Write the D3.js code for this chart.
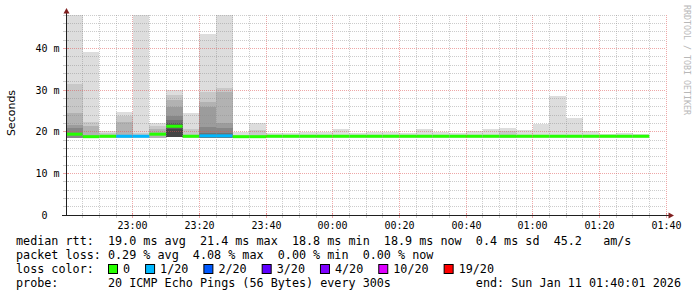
<!DOCTYPE html>
<html lang="en">
<head>
<meta charset="UTF-8">
<title>SmokePing median rtt</title>
<script src="https://cdn.jsdelivr.net/npm/d3@7"></script>
<style>
  body { margin: 0; background: #fff; }
  svg { display: block; }
  text { font-family: "DejaVu Sans Mono", monospace; white-space: pre; }
</style>
</head>
<body>
<svg id="chart" width="697" height="297"></svg>
<script>
// start of each 5 minute bin
const binTimes = ["22:40", "22:45", "22:50", "22:55", "23:00", "23:05", "23:10", "23:15",
  "23:20", "23:25", "23:30", "23:35", "23:40", "23:45", "23:50", "23:55",
  "00:00", "00:05", "00:10", "00:15", "00:20", "00:25", "00:30", "00:35",
  "00:40", "00:45", "00:50", "00:55", "01:00", "01:05", "01:10", "01:15",
  "01:20", "01:25", "01:30"];
const endTime = "01:40";

// median rtt per bin, ms
const medianRtt = [19.4, 18.8, 18.9, 18.9, 18.9, 19.4, 21.3, 18.9, 19.0, 19.0,
  18.8, 18.8, 18.9, 18.9, 18.9, 18.9, 18.9, 18.9, 18.9, 18.9,
  18.9, 18.9, 18.9, 18.9, 18.9, 18.9, 18.9, 18.9, 18.9, 18.9,
  18.9, 18.9, 18.9, 18.9, 18.9];

// lost pings (of 20) per bin
const lossCount = [0, 0, 0, 1, 1, 0, 0, 0, 1, 1,
  0, 0, 0, 0, 0, 0, 0, 0, 0, 0,
  0, 0, 0, 0, 0, 0, 0, 0, 0, 0,
  0, 0, 0, 0, 0];

// smoke: upper edge of each ping band, outer band first, ms
const smokeTops = [
  [49, 31.4, 24.5, 21.6, 20.9],
  [39.2, 22.4, 21.4],
  [20.2, 19.6],
  [24.7, 23.8, 22.3],
  [49, 19.7],
  [22.1, 21.4, 20.6],
  [30.0, 28.8, 27.6, 26.0, 23.8, 22.8, 22.0, 20.6],
  [24.6, 20.6],
  [43.4, 29.6, 27.2, 26.0, 21.2, 19.6],
  [49, 30.6, 29.6, 22.0, 20.8, 19.6],
  [20.0],
  [22.2, 20.4],
  [19.8], [19.6], [20.0], [20.0], [20.6], [19.6], [20.0], [20.0],
  [19.6], [20.6], [20.0], [19.6], [20.2], [20.6], [21.0, 20.2], [20.4],
  [21.8], [28.6], [23.4], [20.2], [19.4], [19.8], [19.4]
];
// fastest ping per bin, ms
const smokeBottom = [18.6, 18.6, 18.6, 18.6, 18.6, 18.6, 18.8, 18.6, 18.6, 18.6,
  18.6, 18.6, 18.6, 18.6, 18.6, 18.6, 18.6, 18.6, 18.6, 18.6,
  18.6, 18.6, 18.6, 18.6, 18.6, 18.6, 18.6, 18.6, 18.6, 18.6,
  18.6, 18.6, 18.6, 18.6, 18.6];

const yTicks = [0, 10, 20, 30, 40];
const yTickLabels = ["0  ", "10 m", "20 m", "30 m", "40 m"];

const lossThresholds = [1, 2, 3, 4, 10, 19];
const lossLabels = ["0", "1/20", "2/20", "3/20", "4/20", "10/20", "19/20"];

const legendLines = [
  "median rtt:  19.0 ms avg  21.4 ms max  18.8 ms min  18.9 ms now  0.4 ms sd  45.2   am/s",
  "packet loss: 0.29 % avg  4.08 % max  0.00 % min  0.00 % now",
  "loss color:",
  "probe:       20 ICMP Echo Pings (56 Bytes) every 300s            end: Sun Jan 11 01:40:01 2026"
];

// styles
const lossColors = ["#26ff00", "#00b8ff", "#0059ff", "#5e00ff", "#7e00ff", "#dd00ff", "#ff0000"];
const smokeShades = ["#dddddd", "#c8c8c8", "#b2b2b2", "#9c9c9c", "#878787", "#717171", "#5a5a5a", "#444444"];
const gridColor = "rgba(143,143,143,0.45)";
const mgridColor = "rgba(222,79,79,0.5)";
const arrowColor = "#801f1f";

const svg = d3.select("#chart");
svg.append("rect").attr("width", 697).attr("height", 297).attr("fill", "#fff");

const parseHM = s => {
  const [h, m] = s.split(":").map(Number);
  return new Date(2026, 0, h >= 12 ? 10 : 11, h, m);
};
const times = binTimes.map(parseHM);
const tEnd = parseHM(endTime);
const binEnd = t => d3.timeMinute.offset(t, 5);

const x = d3.scaleTime().domain([times[0], tEnd]).range([66, 666]);
const y = d3.scaleLinear().domain([0, 48]).range([215, 15]);
const color = d3.scaleThreshold().domain(lossThresholds).range(lossColors);
const snap = v => Math.floor(v) + 0.5;

svg.append("clipPath").attr("id", "plot")
  .append("rect").attr("x", 66).attr("y", 15).attr("width", 600).attr("height", 200);

const plot = svg.append("g").attr("clip-path", "url(#plot)");

// smoke
times.forEach((t, i) => {
  plot.append("g").selectAll("rect")
    .data(smokeTops[i])
    .join("rect")
    .attr("x", x(t))
    .attr("width", x(binEnd(t)) - x(t))
    .attr("y", d => y(d))
    .attr("height", d => y(smokeBottom[i]) - y(d))
    .attr("fill", (d, j) => smokeShades[j])
    .attr("shape-rendering", "crispEdges");
});

// median line, coloured by loss
plot.append("g").selectAll("line")
  .data(times)
  .join("line")
  .attr("x1", d => x(d))
  .attr("x2", d => x(binEnd(d)))
  .attr("y1", (d, i) => y(medianRtt[i]))
  .attr("y2", (d, i) => y(medianRtt[i]))
  .attr("stroke", (d, i) => color(lossCount[i]))
  .attr("stroke-width", 3);

// grid
const grid = svg.append("g").attr("stroke-dasharray", "1,1").attr("stroke-width", 1);
const allX = d3.timeMinute.every(5).range(times[0], d3.timeMinute.offset(tEnd, 1)).slice(1);
const isMajorX = t => t.getMinutes() % 20 === 0;
grid.selectAll(".vx").data(allX).join("line")
  .attr("x1", d => snap(x(d))).attr("x2", d => snap(x(d)))
  .attr("y1", 15).attr("y2", 215)
  .attr("stroke", d => isMajorX(d) ? mgridColor : gridColor);
const allY = y.ticks(24).filter(v => v > 0);
const isMajorY = v => yTicks.includes(v);
grid.selectAll(".hy").data(allY).join("line")
  .attr("x1", 66).attr("x2", 666)
  .attr("y1", d => snap(y(d))).attr("y2", d => snap(y(d)))
  .attr("stroke", d => isMajorY(d) ? mgridColor : gridColor);

// axis ticks
const ticks = svg.append("g").attr("stroke-width", 1);
ticks.selectAll(".tx").data(allX).join("line")
  .attr("x1", d => snap(x(d))).attr("x2", d => snap(x(d)))
  .attr("y1", 213).attr("y2", 218)
  .attr("stroke", d => isMajorX(d) ? mgridColor : gridColor);
ticks.selectAll(".ty").data(allY).join("line")
  .attr("x1", 63).attr("x2", 69)
  .attr("y1", d => snap(y(d))).attr("y2", d => snap(y(d)))
  .attr("stroke", d => isMajorY(d) ? mgridColor : gridColor);

// axes and arrows
svg.append("line").attr("x1", 66.5).attr("x2", 66.5).attr("y1", 216).attr("y2", 12)
  .attr("stroke", "#1f1f1f");
svg.append("line").attr("x1", 62).attr("x2", 669).attr("y1", 215.5).attr("y2", 215.5)
  .attr("stroke", "#1f1f1f");
svg.append("polygon").attr("points", "63.5,13.5 69.5,13.5 66.5,8").attr("fill", arrowColor);
svg.append("polygon").attr("points", "668.5,212.5 668.5,218.5 674,215.5").attr("fill", arrowColor);

// y labels
svg.append("g").selectAll("text")
  .data(yTicks)
  .join("text")
  .attr("x", 59.5)
  .attr("y", d => snap(y(d)))
  .attr("dy", "0.36em")
  .attr("text-anchor", "end")
  .attr("font-size", "10px")
  .attr("xml:space", "preserve")
  .text((d, i) => yTickLabels[i]);

// x labels
svg.append("g").selectAll("text")
  .data(d3.timeMinute.every(20).range(d3.timeMinute.offset(times[0], 1), d3.timeMinute.offset(tEnd, 1)))
  .join("text")
  .attr("x", d => snap(x(d)))
  .attr("y", 228.5)
  .attr("text-anchor", "middle")
  .attr("font-size", "10px")
  .text(d3.timeFormat("%H:%M"));

svg.append("text")
  .attr("transform", "translate(15,113) rotate(-90)")
  .attr("text-anchor", "middle")
  .attr("font-size", "11px")
  .style("font-family", "'DejaVu Sans', sans-serif")
  .text("Seconds");

svg.append("text")
  .attr("transform", "translate(684,5) rotate(90)")
  .attr("font-size", "8.3px")
  .attr("fill", "#b8b8b8")
  .text("RRDTOOL / TOBI OETIKER");

// legend
const legendSize = "11.75px";
svg.append("g").selectAll("text")
  .data(legendLines)
  .join("text")
  .attr("x", 16)
  .attr("y", (d, i) => 245 + i * 14)
  .attr("font-size", legendSize)
  .attr("xml:space", "preserve")
  .text(d => d);

let bx = 108;
lossLabels.forEach((lab, i) => {
  svg.append("rect")
    .attr("x", bx + 0.5).attr("y", 264.5).attr("width", 9).attr("height", 9)
    .attr("fill", lossColors[i]).attr("stroke", "#000");
  const t = svg.append("text")
    .attr("x", bx + 15).attr("y", 273)
    .attr("font-size", legendSize)
    .text(lab);
  bx = bx + 15 + t.node().getComputedTextLength() + 15;
});
</script>
</body>
</html>
